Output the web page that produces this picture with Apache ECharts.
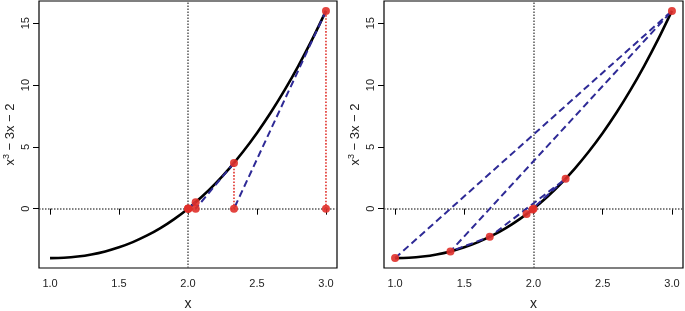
<!DOCTYPE html>
<html>
<head>
<meta charset="utf-8">
<script src="https://cdn.jsdelivr.net/npm/echarts@6/dist/echarts.min.js"></script>
<style>
html, body { margin: 0; padding: 0; background: #fff; }
#main { width: 685px; height: 311px; }
</style>
</head>
<body>
<div id="main"></div>
<script>
// 曲线 f(x) = x^3 - 3x - 2 的取样点
var curveX = [1.0, 1.1, 1.2, 1.3, 1.4, 1.5, 1.6, 1.7, 1.8, 1.9, 2.0, 2.1, 2.2, 2.3, 2.4, 2.5, 2.6, 2.7, 2.8, 2.9, 3.0];
var curveY = [-4, -3.969, -3.872, -3.703, -3.456, -3.125, -2.704, -2.187, -1.568, -0.841, 0, 0.961, 2.048, 3.267, 4.624, 6.125, 7.776, 9.583, 11.552, 13.689, 16];

// 左图：牛顿迭代
var newtonX = [3, 2.3333, 2.0556, 2.0020, 2.0000];
var newtonY = [16, 3.7037, 0.5189, 0.018, 0];

// 右图：割线法迭代
var secantX = [1, 3, 1.4, 1.684, 2.232, 1.950, 1.993, 2.000];
var secantY = [-4, 16, -3.456, -2.276, 2.42, -0.435, -0.066, 0];

// 坐标轴刻度
var xTicks = [1.0, 1.5, 2.0, 2.5, 3.0];
var yTicks = [0, 5, 10, 15];
var xRange = [0.92, 3.08];
var yRange = [-4.8, 16.8];
var rootX = 2;

var RED = '#e0302a';
var BLUE = '#2e2a96';
var FONT = 'Liberation Sans';

var myChart = echarts.init(document.getElementById('main'), null, {renderer: 'canvas'});

function pairs(xs, ys) {
	var out = [];
	for (var i = 0; i < xs.length; i++) out.push([xs[i], ys[i]]);
	return out;
}

// 牛顿法：切线（蓝虚线）和竖线（红点线）
var tangentData = [], verticalData = [], newtonPts = [];
for (var i = 0; i < newtonX.length - 1; i++) {
	tangentData.push([newtonX[i], newtonY[i]], [newtonX[i + 1], 0], '-');
}
for (var i = 0; i < newtonX.length - 2; i++) {
	verticalData.push([newtonX[i], 0], [newtonX[i], newtonY[i]], '-');
}
for (var i = 0; i < newtonX.length; i++) {
	newtonPts.push([newtonX[i], newtonY[i]]);
	if (newtonY[i] !== 0) newtonPts.push([newtonX[i], 0]);
}

function xAxisOpt(idx) {
	return {
		type: 'value', gridIndex: idx, min: xRange[0], max: xRange[1],
		name: 'x', nameLocation: 'middle', nameGap: 29,
		nameTextStyle: {fontFamily: FONT, fontSize: 14, color: '#222'},
		axisLine: {show: false},
		splitLine: {show: false},
		axisTick: {show: true, length: 6, customValues: xTicks, lineStyle: {color: '#000', width: 1}},
		axisLabel: {customValues: xTicks, margin: 10, fontFamily: FONT, fontSize: 11, color: '#222',
			formatter: function (v) { return v.toFixed(1); }}
	};
}

function yAxisOpt(idx) {
	return {
		type: 'value', gridIndex: idx, min: yRange[0], max: yRange[1],
		name: '{t|x}{s|3}{t| − 3x − 2}', nameLocation: 'middle', nameGap: 20, nameRotate: 90,
		nameTextStyle: {
			rich: {
				t: {fontFamily: FONT, fontSize: 13, color: '#222'},
				s: {fontFamily: FONT, fontSize: 9, color: '#222', verticalAlign: 'top', padding: [0, 0, 8, 0]}
			}
		},
		axisLine: {show: false},
		splitLine: {show: false},
		axisTick: {show: true, length: 6, customValues: yTicks, lineStyle: {color: '#000', width: 1}},
		axisLabel: {customValues: yTicks, rotate: 90, margin: 8, fontFamily: FONT, fontSize: 11, color: '#222'}
	};
}

function refLines() {
	return {
		silent: true, symbol: 'none', label: {show: false},
		lineStyle: {color: '#555', type: 'dotted', width: 1.5},
		data: [{xAxis: rootX}, {yAxis: 0}]
	};
}

function curveSeries(idx) {
	return {
		type: 'line', xAxisIndex: idx, yAxisIndex: idx,
		data: pairs(curveX, curveY), smooth: 0.3, showSymbol: false, silent: true,
		lineStyle: {color: '#000', width: 2.6}, z: 3,
		markLine: refLines()
	};
}

var option = {
	backgroundColor: '#fff',
	animation: false,
	grid: [
		{left: 39, top: 1, width: 298, height: 267, outerBoundsMode: 'none', containLabel: false,
			show: true, borderColor: '#000', borderWidth: 1.2},
		{left: 384, top: 1, width: 299, height: 267, outerBoundsMode: 'none', containLabel: false,
			show: true, borderColor: '#000', borderWidth: 1.2}
	],
	xAxis: [xAxisOpt(0), xAxisOpt(1)],
	yAxis: [yAxisOpt(0), yAxisOpt(1)],
	series: [
		curveSeries(0),
		{
			type: 'line', xAxisIndex: 0, yAxisIndex: 0, data: verticalData,
			showSymbol: false, connectNulls: false, silent: true, z: 4,
			lineStyle: {color: RED, type: 'dotted', width: 1.6}
		},
		{
			type: 'line', xAxisIndex: 0, yAxisIndex: 0, data: tangentData,
			showSymbol: false, connectNulls: false, silent: true, z: 5,
			lineStyle: {color: BLUE, type: [7, 4], width: 2}
		},
		{
			type: 'scatter', xAxisIndex: 0, yAxisIndex: 0, data: newtonPts,
			symbolSize: 8, itemStyle: {color: RED, opacity: 0.9}, z: 6
		},
		curveSeries(1),
		{
			type: 'line', xAxisIndex: 1, yAxisIndex: 1, data: pairs(secantX, secantY),
			showSymbol: false, silent: true, z: 5,
			lineStyle: {color: BLUE, type: [7, 4], width: 2}
		},
		{
			type: 'scatter', xAxisIndex: 1, yAxisIndex: 1, data: pairs(secantX, secantY),
			symbolSize: 8, itemStyle: {color: RED, opacity: 0.9}, z: 6
		}
	]
};

myChart.setOption(option);
</script>
</body>
</html>
